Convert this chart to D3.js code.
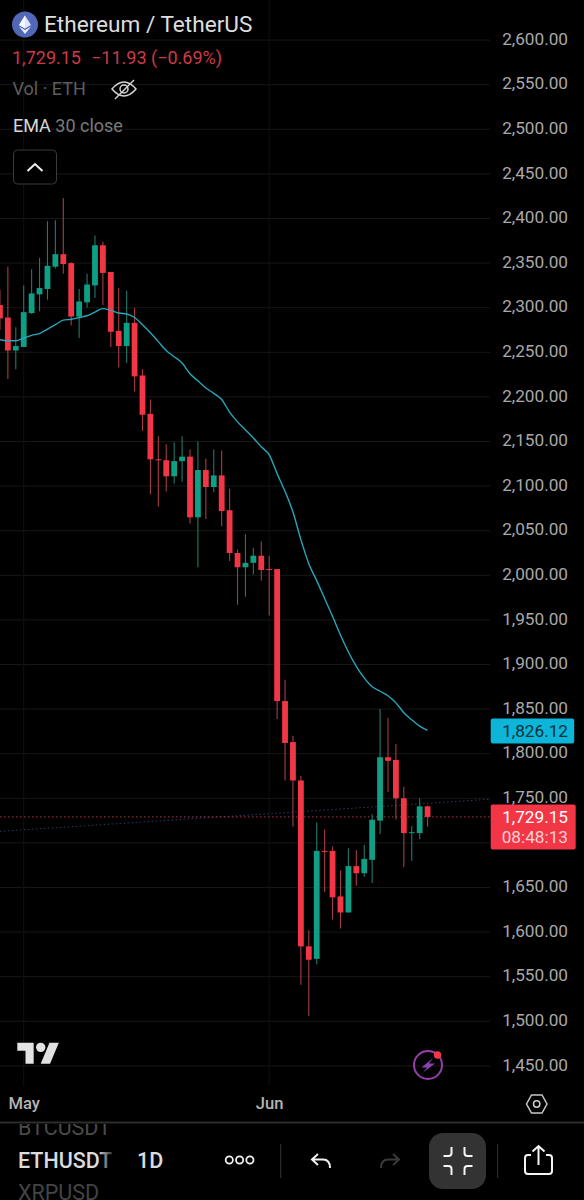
<!DOCTYPE html>
<html>
<head>
<meta charset="utf-8">
<script src="https://cdn.jsdelivr.net/npm/d3@7"></script>
<style>
  html, body { margin: 0; padding: 0; background: #000; }
  svg { display: block; font-family: Roboto, sans-serif; }
</style>
</head>
<body>
<script>
const width = 584;
const height = 1200;

// Daily candles, first one is Apr 28
const firstDay = new Date(Date.UTC(2026, 3, 28));
const opens = [2303, 2289, 2252, 2256, 2294, 2315, 2321, 2346, 2360, 2350, 2290, 2306, 2325, 2370, 2340, 2274, 2257, 2283, 2224, 2181, 2130, 2129, 2111, 2128, 2133, 2065, 2118, 2099, 2112, 2073, 2025, 2009, 2014, 2022, 2007, 2007, 1859, 1813, 1770, 1584, 1570, 1691, 1691, 1640, 1622, 1674, 1666, 1681, 1725, 1796, 1793, 1750, 1711, 1711, 1741];
const highs = [2320, 2346, 2278, 2325, 2343, 2356, 2397, 2398, 2423, 2351, 2321, 2338, 2381, 2374, 2340, 2322, 2319, 2300, 2231, 2197, 2156, 2147, 2149, 2156, 2141, 2150, 2131, 2141, 2140, 2097, 2029, 2046, 2031, 2038, 2022, 2007, 1883, 1820, 1775, 1602, 1723, 1715, 1696, 1669, 1694, 1692, 1698, 1732, 1850, 1840, 1811, 1763, 1719, 1750, 1742];
const lows = [2275, 2220, 2231, 2256, 2293, 2296, 2309, 2344, 2338, 2280, 2266, 2300, 2311, 2303, 2256, 2233, 2238, 2206, 2162, 2091, 2077, 2094, 2103, 2105, 2058, 2009, 2063, 2093, 2055, 2016, 1967, 1976, 2001, 1994, 1955, 1839, 1770, 1718, 1541, 1506, 1564, 1645, 1614, 1604, 1622, 1652, 1662, 1655, 1710, 1757, 1726, 1673, 1680, 1704, 1718];
const closes = [2288, 2252, 2257, 2295, 2316, 2322, 2347, 2360, 2349, 2290, 2307, 2326, 2370, 2339, 2273, 2257, 2283, 2223, 2180, 2130, 2129, 2111, 2128, 2133, 2065, 2118, 2099, 2112, 2072, 2025, 2009, 2014, 2022, 2006, 2006, 1859, 1812, 1770, 1584, 1569, 1691, 1690, 1639, 1622, 1674, 1666, 1682, 1726, 1796, 1792, 1750, 1711, 1712, 1741, 1729.15];

// EMA 30 close
const emaValues = [2264, 2263, 2263, 2266, 2269, 2271, 2276, 2281, 2286, 2287, 2289, 2291, 2295, 2299, 2297, 2294, 2293, 2289, 2281, 2272, 2262, 2252, 2245, 2238, 2226, 2218, 2210, 2204, 2197, 2183, 2172, 2163, 2154, 2144, 2135, 2114, 2094, 2071, 2040, 2013, 1994, 1974, 1954, 1933, 1914, 1898, 1885, 1875, 1870, 1865, 1857, 1846, 1838, 1831, 1826.12];

// Faint dotted trend line under the price line
const trendDays = [new Date(Date.UTC(2026, 3, 28)), new Date(Date.UTC(2026, 5, 29))];
const trendValues = [1713, 1749];

const priceTicks = [2600, 2550, 2500, 2450, 2400, 2350, 2300, 2250, 2200, 2150, 2100, 2050, 2000, 1950, 1900, 1850, 1800, 1750, 1700, 1650, 1600, 1550, 1500, 1450];
const monthTicks = [new Date(Date.UTC(2026, 4, 1)), new Date(Date.UTC(2026, 5, 1))];

const lastPrice = 1729.15;
const lastEma = 1826.12;

const upColor = "#0e9f85";
const downColor = "#f23645";

const candles = opens.map((o, i) => ({
  day: d3.utcDay.offset(firstDay, i),
  open: o,
  high: highs[i],
  low: lows[i],
  close: closes[i]
}));

// Scales
const x = d3.scaleUtc().domain(monthTicks).range([23.7, 269.2]);
const y = d3.scaleLinear().domain([1450, 2600]).range([1065.9, 40.1]);

const svg = d3.select("body").append("svg")
  .attr("width", width)
  .attr("height", height);

svg.append("rect").attr("width", width).attr("height", height).attr("fill", "#000");

// Grid
svg.append("g").selectAll("line")
  .data(priceTicks)
  .enter().append("line")
  .attr("x1", 0).attr("x2", 490)
  .attr("y1", d => y(d)).attr("y2", d => y(d))
  .attr("stroke", "#171717");

svg.append("g").selectAll("line")
  .data(monthTicks)
  .enter().append("line")
  .attr("x1", d => x(d)).attr("x2", d => x(d))
  .attr("y1", 0).attr("y2", 1086)
  .attr("stroke", "#101010");

// Dotted lines behind the candles
svg.append("line")
  .attr("x1", x(trendDays[0])).attr("x2", x(trendDays[1]))
  .attr("y1", y(trendValues[0])).attr("y2", y(trendValues[1]))
  .attr("stroke", "#2b3a66")
  .attr("stroke-dasharray", "1.5 2.5");

svg.append("line")
  .attr("x1", 0).attr("x2", 490)
  .attr("y1", y(lastPrice)).attr("y2", y(lastPrice))
  .attr("stroke", "#a23a44")
  .attr("stroke-dasharray", "1.5 2.5");

// Wicks
svg.append("g").selectAll("line")
  .data(candles)
  .enter().append("line")
  .attr("x1", d => x(d.day)).attr("x2", d => x(d.day))
  .attr("y1", d => y(d.high)).attr("y2", d => y(d.low))
  .attr("stroke", d => d.close >= d.open ? "#22786a" : "#a53c47")
  .attr("stroke-width", 1.1);

// Bodies
svg.append("g").selectAll("rect")
  .data(candles)
  .enter().append("rect")
  .attr("x", d => x(d.day) - 2.9)
  .attr("width", 5.8)
  .attr("y", d => y(Math.max(d.open, d.close)))
  .attr("height", d => Math.max(1, Math.abs(y(d.open) - y(d.close))))
  .attr("fill", d => d.close >= d.open ? upColor : downColor);

// EMA line
const emaLine = d3.line()
  .x(d => x(d.day))
  .y(d => y(d.value))
  .curve(d3.curveMonotoneX);

svg.append("path")
  .datum(emaValues.map((v, i) => ({ day: candles[i].day, value: v })))
  .attr("d", emaLine)
  .attr("fill", "none")
  .attr("stroke", "#26a6ba")
  .attr("stroke-width", 1.4);

// Price axis, the 1,700 label sits behind the last price tag so it is left out
const priceAxis = svg.append("g")
  .attr("transform", "translate(568,-1.3)")
  .call(d3.axisLeft(y)
    .tickValues(priceTicks.filter(d => d !== 1700))
    .tickFormat(d3.format(",.2f"))
    .tickSize(0)
    .tickPadding(0));
priceAxis.select(".domain").remove();
priceAxis.selectAll("text")
  .attr("font-family", "Roboto, sans-serif")
  .attr("font-size", 17.2)
  .attr("fill", "#a9a9a9");

// Time axis
const timeAxis = svg.append("g")
  .attr("transform", "translate(0,1097)")
  .call(d3.axisBottom(x).tickValues(monthTicks).tickFormat(d3.utcFormat("%b")).tickSize(0).tickPadding(0));
timeAxis.select(".domain").remove();
timeAxis.selectAll("text")
  .attr("font-family", "Roboto, sans-serif")
  .attr("font-size", 16.6)
  .attr("font-weight", 500)
  .attr("fill", "#b4b4b4");

// Price tags
svg.append("rect")
  .attr("x", 490.7).attr("y", y(lastEma) - 12)
  .attr("width", 83.5).attr("height", 25).attr("rx", 2)
  .attr("fill", "#0db5d8");
svg.append("text")
  .attr("x", 568).attr("y", y(lastEma) + 6.5)
  .attr("text-anchor", "end").attr("font-size", 17.2)
  .attr("fill", "#07303c")
  .text(d3.format(",.2f")(lastEma));

svg.append("rect")
  .attr("x", 490.7).attr("y", 804.5)
  .attr("width", 85).attr("height", 45).attr("rx", 2)
  .attr("fill", downColor);
svg.append("text")
  .attr("x", 568).attr("y", 822.5)
  .attr("text-anchor", "end").attr("font-size", 17.2)
  .attr("fill", "#fff")
  .text(d3.format(",.2f")(lastPrice));
svg.append("text")
  .attr("x", 568).attr("y", 842.5)
  .attr("text-anchor", "end").attr("font-size", 17.2)
  .attr("fill", "#ffd0d4")
  .text("08:48:13");

// Header
svg.append("circle").attr("cx", 25).attr("cy", 24.5).attr("r", 13).attr("fill", "#5168b8");
svg.append("path").attr("d", "M25 15.5L31 25L25 28.5L19 25Z").attr("fill", "#dce5fb");
svg.append("path").attr("d", "M25 15.5L25 28.5L19 25Z").attr("fill", "#f4f7ff");
svg.append("path").attr("d", "M19 26.5L25 30L31 26.5L25 34Z").attr("fill", "#e6ecfc");

svg.append("text")
  .attr("x", 44).attr("y", 32)
  .attr("font-size", 22.6)
  .attr("fill", "#dedede")
  .text("Ethereum / TetherUS");

svg.append("text")
  .attr("x", 12).attr("y", 63.5)
  .attr("font-size", 18)
  .attr("fill", "#cc3a47")
  .text("1,729.15");
svg.append("text")
  .attr("x", 91).attr("y", 63.5)
  .attr("font-size", 18)
  .attr("fill", "#cc3a47")
  .text("\u221211.93 (\u22120.69%)");

svg.append("text")
  .attr("x", 12.5).attr("y", 95)
  .attr("font-size", 18)
  .attr("fill", "#5e5e5e")
  .text("Vol \u00b7 ETH");

// Hidden-volume eye
const eye = svg.append("g").attr("fill", "none").attr("stroke", "#d4d4d4").attr("stroke-width", 1.5);
eye.append("path").attr("d", "M112 89 Q124 75 136 89 Q124 103 112 89Z");
eye.append("circle").attr("cx", 124).attr("cy", 89).attr("r", 4);
eye.append("line").attr("x1", 115).attr("y1", 99).attr("x2", 134).attr("y2", 80);

const emaLabel = svg.append("text").attr("x", 13).attr("y", 132).attr("font-size", 18);
emaLabel.append("tspan").attr("fill", "#d8d8d8").text("EMA ");
emaLabel.append("tspan").attr("fill", "#7a7a7a").text("30 close");

svg.append("rect")
  .attr("x", 13.5).attr("y", 150)
  .attr("width", 43).attr("height", 34).attr("rx", 4)
  .attr("fill", "#000").attr("stroke", "#3b3b3b");
svg.append("path")
  .attr("d", "M27.5 171L35 164L42.5 171")
  .attr("fill", "none").attr("stroke", "#f0f0f0").attr("stroke-width", 2);

// TradingView logo
const logo = svg.append("g").attr("transform", "translate(17.3,1038) scale(1.17)").attr("fill", "#e2e2e2");
logo.append("path").attr("d", "M14 22H7V11H0V4h14v18ZM28 22h-8l7.5-18h8L28 22Z");
logo.append("circle").attr("cx", 20).attr("cy", 8).attr("r", 4);

// Bolt badge
svg.append("circle").attr("cx", 428).attr("cy", 1065).attr("r", 14)
  .attr("fill", "none").attr("stroke", "#953fa8").attr("stroke-width", 2);
svg.append("path").attr("d", "M433 1058L421.5 1067.5L427 1067.5L423 1072.5L435 1063.5L429 1063.5Z").attr("fill", "#8e3fb5");
svg.append("circle").attr("cx", 437.5).attr("cy", 1055).attr("r", 3.7).attr("fill", downColor);

// Scale settings hexagon
svg.append("path").attr("d", "M526.5 1104L531.5 1095L542 1095L547 1104L542 1113L531.5 1113Z")
  .attr("fill", "none").attr("stroke", "#c8c8c8").attr("stroke-width", 1.5);
svg.append("circle").attr("cx", 536.7).attr("cy", 1104).attr("r", 3.2)
  .attr("fill", "none").attr("stroke", "#c8c8c8").attr("stroke-width", 1.5);

// Bottom toolbar
svg.append("rect").attr("x", 0).attr("y", 1121.5).attr("width", width).attr("height", 2).attr("fill", "#2c2c2c");

const defs = svg.append("defs");
defs.append("clipPath").attr("id", "symbols")
  .append("rect").attr("x", 0).attr("y", 1124).attr("width", 112).attr("height", 76);
const fade = defs.append("linearGradient").attr("id", "fade")
  .attr("gradientUnits", "userSpaceOnUse")
  .attr("x1", 98).attr("x2", 112).attr("y1", 0).attr("y2", 0);
fade.append("stop").attr("offset", 0).attr("stop-color", "#dcdcdc");
fade.append("stop").attr("offset", 1).attr("stop-color", "#333");

const symbols = svg.append("g").attr("clip-path", "url(#symbols)").attr("font-size", 21.5);
symbols.append("text").attr("x", 18).attr("y", 1135).attr("fill", "#4a4a4a").text("BTCUSDT");
symbols.append("text").attr("x", 18).attr("y", 1168).attr("fill", "url(#fade)").attr("font-weight", 500).text("ETHUSDT");
symbols.append("text").attr("x", 18).attr("y", 1200).attr("fill", "#444").text("XRPUSD");

svg.append("text").attr("x", 137).attr("y", 1168)
  .attr("font-size", 21.5).attr("font-weight", 500).attr("fill", "#dcdcdc").text("1D");

svg.append("g").attr("fill", "none").attr("stroke", "#f0f0f0").attr("stroke-width", 1.8)
  .selectAll("circle").data([229.3, 239.6, 249.9]).enter().append("circle")
  .attr("cx", d => d).attr("cy", 1160).attr("r", 3.6);

svg.append("g").attr("stroke", "#333")
  .selectAll("line").data([280.7, 497.7]).enter().append("line")
  .attr("x1", d => d).attr("x2", d => d).attr("y1", 1144).attr("y2", 1178);

svg.append("path").attr("d", "M318 1154L312 1159.5L318 1165M312 1159.5H323Q330 1159.5 330 1168")
  .attr("fill", "none").attr("stroke", "#f0f0f0").attr("stroke-width", 2);
svg.append("path").attr("d", "M393 1154L399 1159.5L393 1165M399 1159.5H388Q381 1159.5 381 1168")
  .attr("fill", "none").attr("stroke", "#3a3a3a").attr("stroke-width", 2);

svg.append("rect").attr("x", 429).attr("y", 1133).attr("width", 57).attr("height", 56).attr("rx", 14).attr("fill", "#333");
svg.append("path")
  .attr("d", "M443.5 1156h5q3 0 3-3v-6M472.5 1156h-5q-3 0-3-3v-6M443.5 1166h5q3 0 3 3v6M472.5 1166h-5q-3 0-3 3v6")
  .attr("fill", "none").attr("stroke", "#f4f4f4").attr("stroke-width", 2);

svg.append("path")
  .attr("d", "M531 1155h-3q-3 0-3 3v13q0 3 3 3h21q3 0 3-3v-13q0-3-3-3h-3M538.5 1165V1146M532.5 1151.5L538.5 1146L544.5 1151.5")
  .attr("fill", "none").attr("stroke", "#f4f4f4").attr("stroke-width", 2);
</script>
</body>
</html>
